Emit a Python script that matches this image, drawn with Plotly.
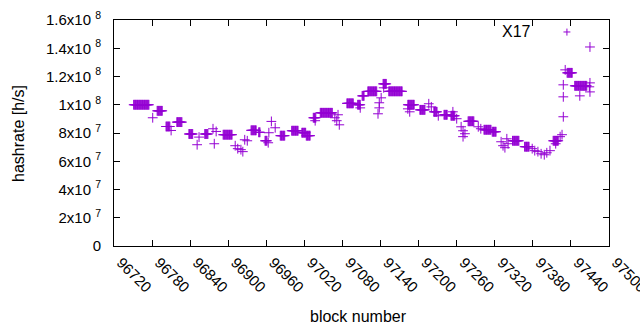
import plotly.graph_objects as go

# Plateaus (runs of consecutive blocks with the same hashrate, in 1e6 h/s)
seg_start = [96751, 96788, 96802, 96819, 96838, 96863, 96892, 96936, 96948, 96958,
             96982, 97000, 97016, 97023, 97034, 97045, 97087, 97104, 97111, 97120,
             97144, 97153, 97183, 97202, 97224, 97240, 97251, 97278, 97303, 97316,
             97348, 97367, 97412, 97434, 97446]
seg_end = [96775, 96796, 96808, 96827, 96844, 96868, 96906, 96944, 96950, 96961,
           96989, 97010, 97022, 97029, 97038, 97064, 97097, 97108, 97114, 97134,
           97149, 97174, 97193, 97210, 97229, 97245, 97257, 97287, 97314, 97322,
           97358, 97374, 97420, 97442, 97465]
seg_val = [100.0, 95.7, 84.6, 87.7, 79.3, 79.3, 78.8, 81.9, 80.5, 74.5,
           78.1, 81.6, 80.2, 78.1, 90.8, 94.3, 101.0, 100.0, 106.3, 109.5,
           114.8, 109.5, 100.0, 96.4, 95.0, 92.9, 92.2, 88.3, 82.3, 80.9,
           74.5, 70.3, 74.5, 122.6, 113.4]

# Individual points off the plateaus
pt_block = [96781, 96810, 96851, 96854, 96876, 96878, 96881, 96911, 96915, 96920,
            96923, 96926, 96930, 96963, 96964, 96968, 96974, 97037, 97068, 97071,
            97073, 97075, 97108, 97136, 97138, 97138, 97141, 97145, 97183, 97186,
            97216, 97220, 97231, 97254, 97260, 97267, 97270, 97270, 97273, 97294,
            97298, 97330, 97333, 97336, 97339, 97341, 97379, 97383, 97388, 97393,
            97398, 97402, 97407, 97416, 97423, 97426, 97428, 97428, 97428, 97431,
            97454, 97470, 97470, 97470, 97469]
pt_val = [90.8, 81.8, 71.7, 77.1, 83.0, 72.4, 81.1, 71.0, 68.9, 68.2,
          66.8, 75.2, 74.5, 73.1, 80.2, 88.2, 83.7, 88.7, 90.8, 88.7,
          92.9, 85.8, 97.8, 93.6, 97.8, 101.4, 104.9, 112.0, 97.1, 95.0,
          100.7, 98.5, 92.2, 95.0, 90.1, 84.4, 81.6, 77.4, 79.5, 84.4,
          83.0, 73.8, 71.0, 69.6, 75.9, 72.4, 68.9, 67.5, 66.8, 65.3,
          64.6, 66.0, 67.5, 72.4, 77.4, 78.8, 91.5, 105.6, 114.1, 124.7,
          106.3, 140.9, 115.5, 109.1, 112.7]

x_ticks = list(range(96720, 97501, 60))
x_tick_text = [str(v) for v in x_ticks]
y_ticks = [0, 2e7, 4e7, 6e7, 8e7, 1e8, 1.2e8, 1.4e8, 1.6e8]
y_tick_text = ["0", "2x10 <sup>7</sup>", "4x10 <sup>7</sup>", "6x10 <sup>7</sup>",
               "8x10 <sup>7</sup>", "1x10 <sup>8</sup>", "1.2x10 <sup>8</sup>",
               "1.4x10 <sup>8</sup>", "1.6x10 <sup>8</sup>"]

xs, ys = [], []
for s, e, v in zip(seg_start, seg_end, seg_val):
    for b in range(s, e + 1):
        xs.append(b)
        ys.append(v * 1e6)
for b, v in zip(pt_block, pt_val):
    xs.append(b)
    ys.append(v * 1e6)

COL = "#9400D3"
FONT = "Liberation Sans, Arial, sans-serif"

fig = go.Figure()
fig.add_trace(go.Scatter(
    x=xs, y=ys, mode="markers", name="X17", showlegend=False,
    marker=dict(symbol="cross-thin", size=7, color=COL, line=dict(color=COL, width=1)),
))

axis_common = dict(showline=True, linecolor="black", linewidth=1, mirror="ticks",
                   ticks="inside", ticklen=6, tickcolor="black", showgrid=False,
                   zeroline=False, automargin=False, ticklabeloverflow="allow",
                   tickfont=dict(family=FONT, size=15, color="black"))

fig.update_xaxes(range=[96720, 97500], tickvals=x_ticks, ticktext=x_tick_text,
                 tickangle=45, ticklabelstandoff=1, ticklabelshift=7, **axis_common)
fig.update_yaxes(range=[0, 1.6e8], tickvals=y_ticks, ticktext=y_tick_text,
                 ticklabelstandoff=9, **axis_common)

fig.add_annotation(text="hashrate [h/s]", textangle=-90, xref="paper", yref="paper",
                   x=-0.194, y=0.5, xanchor="center", yanchor="middle", showarrow=False,
                   font=dict(family=FONT, size=16, color="black"))
fig.add_annotation(text="block number", xref="paper", yref="paper",
                   x=0.493, y=-0.31, xanchor="center", yanchor="middle", showarrow=False,
                   font=dict(family=FONT, size=16, color="black"))
fig.add_annotation(text="X17", xref="paper", yref="paper", x=0.846, y=0.951,
                   xanchor="right", yanchor="middle", showarrow=False,
                   font=dict(family=FONT, size=16, color="black"))
# legend sample "+"
fig.add_shape(type="line", xref="paper", yref="paper", x0=0.908, x1=0.922,
              y0=0.947, y1=0.947, line=dict(color=COL, width=1))
fig.add_shape(type="line", xref="paper", yref="paper", x0=0.915, x1=0.915,
              y0=0.931, y1=0.962, line=dict(color=COL, width=1))

fig.update_layout(width=640, height=330, margin=dict(l=114, r=31, t=20, b=84),
                  plot_bgcolor="white", paper_bgcolor="white",
                  font=dict(family=FONT, size=15, color="black"))
fig.write_html("out.html", config={"displayModeBar": False},
               post_script="document.body.style.margin='0';document.body.style.padding='0';")
